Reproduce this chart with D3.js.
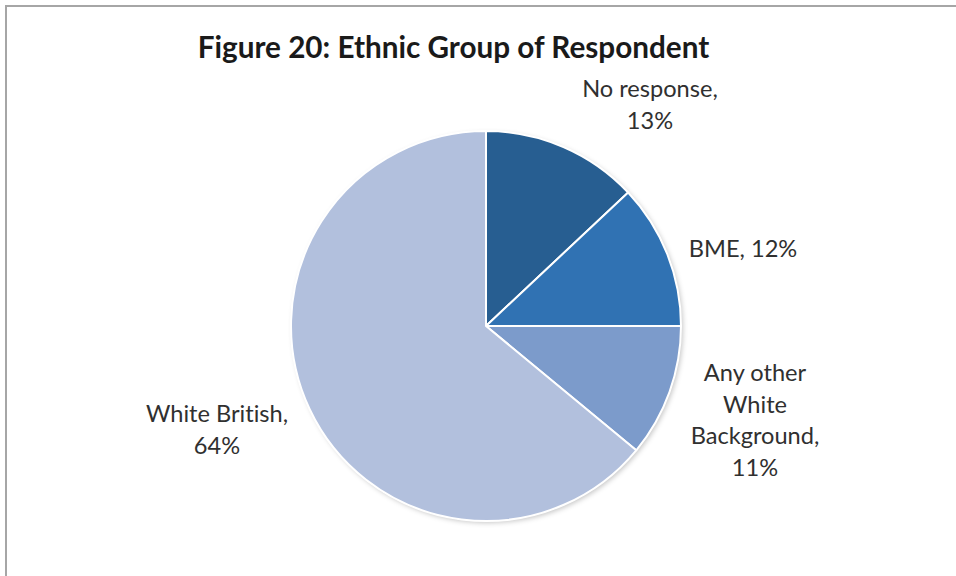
<!DOCTYPE html>
<html>
<head>
<meta charset="utf-8">
<script src="https://cdn.jsdelivr.net/npm/d3@7/dist/d3.min.js"></script>
<style>
  html, body { margin: 0; padding: 0; background: #fff; }
  svg { display: block; }
  text { font-variant-ligatures: none; font-feature-settings: "liga" 0; }
</style>
</head>
<body>
<svg id="chart" width="956" height="576"></svg>
<script>
// Ethnic group of respondents (percent)
const categories = ["No response", "BME", "Any other White Background", "White British"];
const values = [13, 12, 11, 64];
// Label lines as they are wrapped on the chart
const labelLines = [
  ["No response,", "13%"],
  ["BME, 12%"],
  ["Any other", "White", "Background,", "11%"],
  ["White British,", "64%"]
];
const colors = ["#275E91", "#3072B3", "#7C9BCB", "#B2C0DD"];

const svg = d3.select("#chart");
const W = 956, H = 576;

// chart area frame
svg.append("rect")
  .attr("x", 6).attr("y", 6)
  .attr("width", W + 20).attr("height", H + 20)
  .attr("fill", "#fff")
  .attr("stroke", "#A6A6A6")
  .attr("stroke-width", 2);

// soft shadow under the pie
const defs = svg.append("defs");
const f = defs.append("filter").attr("id", "shadow")
  .attr("x", "-10%").attr("y", "-10%").attr("width", "120%").attr("height", "120%");
f.append("feDropShadow")
  .attr("dx", 2).attr("dy", 2).attr("stdDeviation", 2.5)
  .attr("flood-color", "#000").attr("flood-opacity", 0.22);

svg.append("text")
  .attr("x", 453.5).attr("y", 58)
  .attr("text-anchor", "middle")
  .attr("font-family", "Lato, 'Open Sans', sans-serif")
  .attr("font-weight", "bold")
  .attr("font-size", 29.7)
  .attr("fill", "#1a1a1a")
  .text("Figure 20: Ethnic Group of Respondent");

const cx = 486, cy = 326, r = 195;
const pie = d3.pie().sort(null).value(d => d);
const arcs = pie(values);
const arc = d3.arc().innerRadius(0).outerRadius(r);

const g = svg.append("g").attr("transform", `translate(${cx},${cy})`);
g.append("circle").attr("r", r).attr("fill", "#fff").attr("filter", "url(#shadow)");
g.selectAll("path.slice")
  .data(arcs)
  .join("path")
  .attr("class", "slice")
  .attr("d", arc)
  .attr("fill", (d, i) => colors[i])
  .attr("stroke", "#fff")
  .attr("stroke-width", 2)
  .attr("stroke-linejoin", "round");

// label anchor points: centre x and first baseline
const labelPos = [
  { x: 650, y: 97 },
  { x: 743, y: 257 },
  { x: 755, y: 381 },
  { x: 217, y: 422 }
];
const lineH = 31.5;

const labels = svg.append("g")
  .attr("font-family", "Lato, 'Open Sans', sans-serif")
  .attr("font-size", 23.6)
  .attr("fill", "#303030")
  .attr("text-anchor", "middle");

labelLines.forEach((lines, i) => {
  const t = labels.append("text")
    .attr("x", labelPos[i].x).attr("y", labelPos[i].y)
    .attr("aria-label", `${categories[i]}, ${values[i]}%`);
  lines.forEach((ln, j) => {
    t.append("tspan")
      .attr("x", labelPos[i].x)
      .attr("y", labelPos[i].y + j * lineH)
      .text(ln);
  });
});
</script>
</body>
</html>
